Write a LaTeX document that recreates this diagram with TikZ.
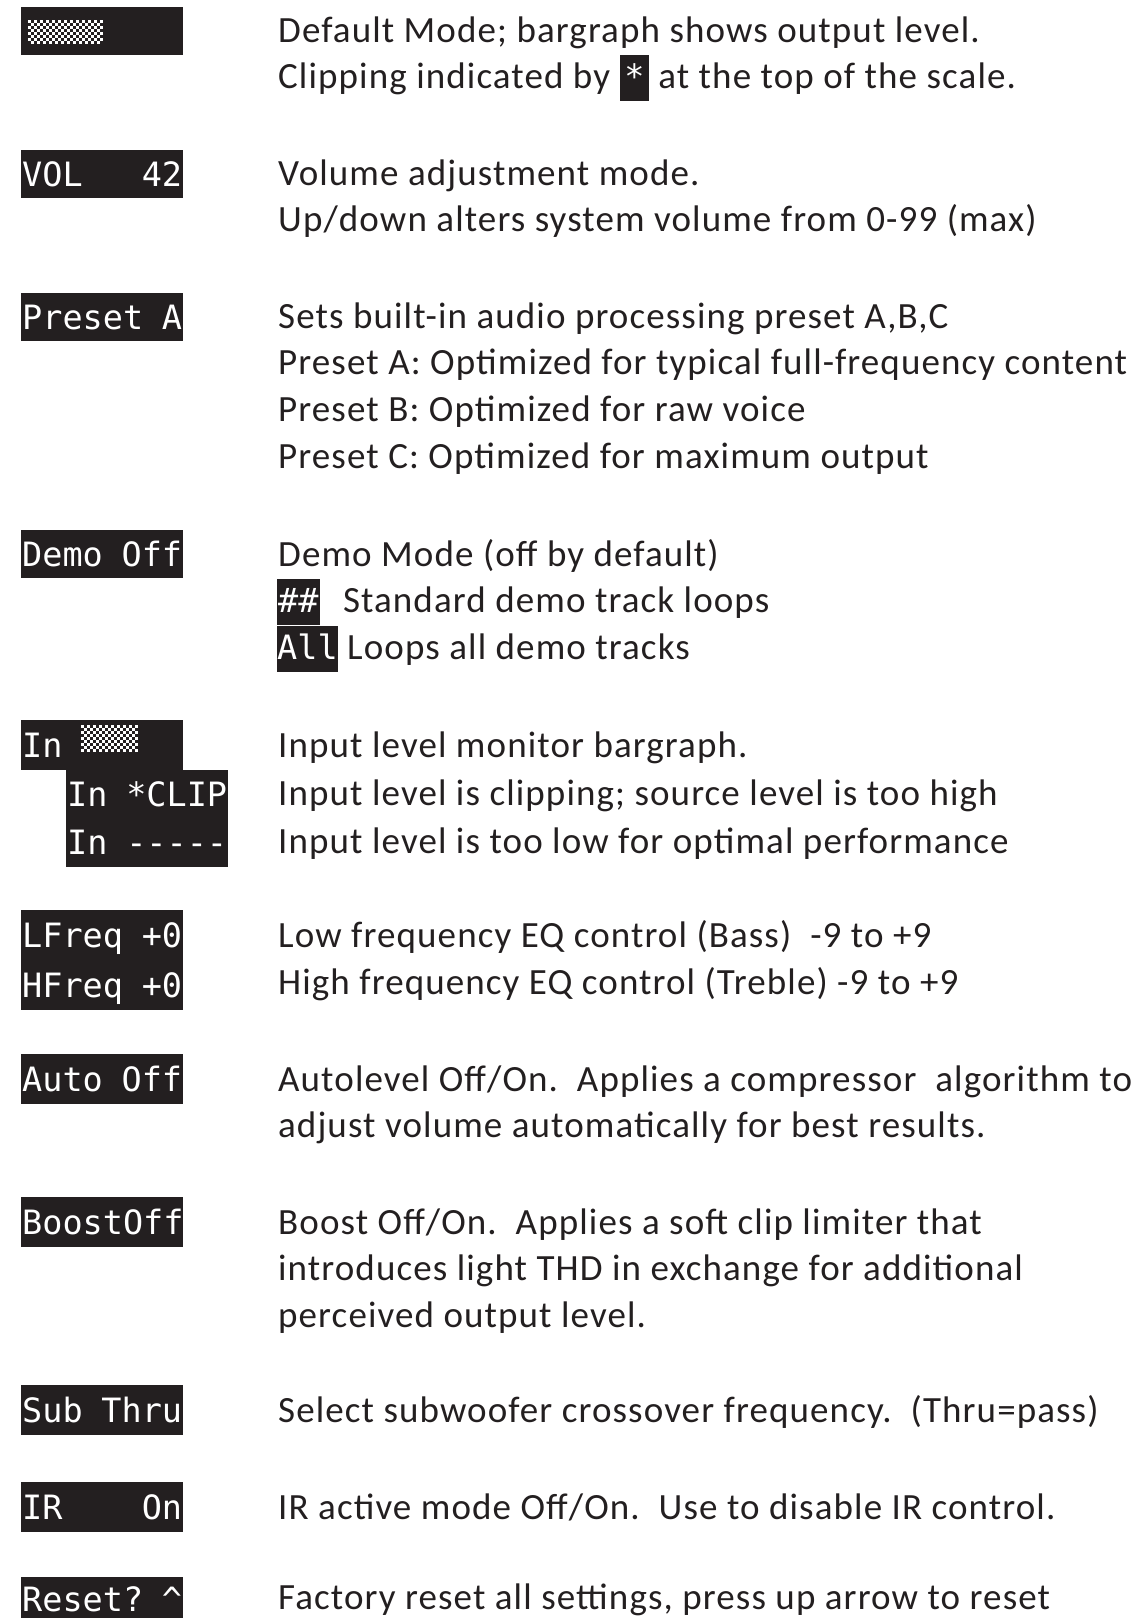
\documentclass[tikz,border=0pt]{standalone}
\usepackage{fontspec}
\setmainfont[LetterSpace=3]{Carlito}
\newfontfamily\lcdmono{DejaVu Sans Mono}
\definecolor{lcdblack}{HTML}{231F20}
\newcommand\lcdfont{\lcdmono\fontsize{33.5}{51}\selectfont}
% small black LCD patch inside a text line
\newcommand\lcdchip[2][0pt]{{\setlength\fboxsep{0pt}\colorbox{lcdblack}{\rule[-12pt]{0pt}{45.5pt}\hspace{#1}\textcolor{white}{\lcdfont #2}\hspace{#1}}}}
\tikzset{
	lcd/.style={fill=lcdblack, text=white, font=\lcdfont, anchor=north west,
		inner xsep=1pt, inner ysep=0pt, text width=160pt, align=left,
		minimum height=48pt, text height=24pt, text depth=0pt,
		execute at begin node={\spaceskip=0pt\xspaceskip=0pt}},
	desc/.style={anchor=base west, inner sep=0pt, text=lcdblack,
		font=\fontsize{37}{46.8}\selectfont}
}
\begin{document}
\begin{tikzpicture}[x=1pt,y=-1pt]
	\useasboundingbox (0,0) rectangle (1139,1618);
	% LCD screens
	\node[lcd] (bar) at (21,7) {~};
	\node[lcd] (vol) at (21,150) {VOL~~~~42};
	\node[lcd] (preset) at (21,293) {Preset~A};
	\node[lcd] (demo) at (21,530) {Demo~Off};
	\node[lcd, minimum height=50pt] (inbar) at (21,720) {In};
	\node[lcd] (inclip) at (66,770) {In~*CLIP};
	\node[lcd, minimum height=49pt] (inlow) at (66,818) {In~-{}-{}-{}-{}-};
	\node[lcd, minimum height=50pt] (lfreq) at (21,910) {LFreq~+0};
	\node[lcd, minimum height=50pt] (hfreq) at (21,960) {HFreq~+0};
	\node[lcd, minimum height=50pt] (auto) at (21,1054) {Auto~Off};
	\node[lcd, minimum height=50pt] (boost) at (21,1197) {BoostOff};
	\node[lcd, minimum height=50pt] (sub) at (21,1385) {Sub~Thru};
	\node[lcd, minimum height=50pt] (ir) at (21,1482) {IR~~~~On};
	\node[lcd, minimum height=44pt] (reset) at (21,1577) {Reset?~\textasciicircum};
	% bargraph dots
	\foreach \j in {0,...,7}
		\foreach \i in {0,...,24}{
			\pgfmathtruncatemacro\odd{mod(\i+\j,2)}
			\ifnum\odd=0 \fill[white] ({28+3*\i},{20+3*\j}) rectangle +(3,3); \fi
		}
	\foreach \j in {0,...,8}
		\foreach \i in {0,...,18}{
			\pgfmathtruncatemacro\odd{mod(\i+\j,2)}
			\ifnum\odd=0 \fill[white] ({81+3*\i},{725+3*\j}) rectangle +(3,3); \fi
		}
	% descriptions
	\node[desc] (bar1) at (278,42) {Default Mode; bargraph shows output level.};
	\node[desc] (bar2) at (278,88.8) {Clipping indicated by \lcdchip[4.5pt]{*} at the top of the scale.};
	\node[desc] (vol1) at (278,185) {Volume adjustment mode.};
	\node[desc] (vol2) at (278,231.8) {Up/down alters system volume from 0-99 (max)};
	\node[desc] (preset1) at (278,328) {Sets built-in audio processing preset A,B,C};
	\node[desc] (preset2) at (278,374.8) {Preset A: Optimized for typical full-frequency content};
	\node[desc] (preset3) at (278,421.6) {Preset B: Optimized for raw voice};
	\node[desc] (preset4) at (278,468.4) {Preset C: Optimized for maximum output};
	\node[desc] (demo1) at (278,566) {Demo Mode (off by default)};
	\node[desc] (demo2) at (277,612.8) {\lcdchip[1pt]{\#\#}\hspace{14pt} Standard demo track loops};
	\node[desc] (demo3) at (277,659.6) {\lcdchip{All} Loops all demo tracks};
	\node[desc] (in1) at (278,757) {Input level monitor bargraph.};
	\node[desc] (in2) at (278,805) {Input level is clipping; source level is too high};
	\node[desc] (in3) at (278,853) {Input level is too low for optimal performance};
	\node[desc] (eq1) at (278,947) {Low frequency EQ control (Bass)\ \ -9 to +9};
	\node[desc] (eq2) at (278,994) {High frequency EQ control (Treble) -9 to +9};
	\node[desc] (auto1) at (278,1091) {Autolevel Off/On.\ \ Applies a compressor\ \ algorithm to};
	\node[desc] (auto2) at (278,1137.8) {adjust volume automatically for best results.};
	\node[desc] (boost1) at (278,1234) {Boost Off/On.\ \ Applies a soft clip limiter that};
	\node[desc] (boost2) at (278,1280.8) {introduces light THD in exchange for additional};
	\node[desc] (boost3) at (278,1327.6) {perceived output level.};
	\node[desc] (sub1) at (278,1422) {Select subwoofer crossover frequency.\ \ (Thru=pass)};
	\node[desc] (ir1) at (278,1519) {IR active mode Off/On.\ \ Use to disable IR control.};
	\node[desc] (reset1) at (278,1609) {Factory reset all settings, press up arrow to reset};
\end{tikzpicture}
\end{document}
